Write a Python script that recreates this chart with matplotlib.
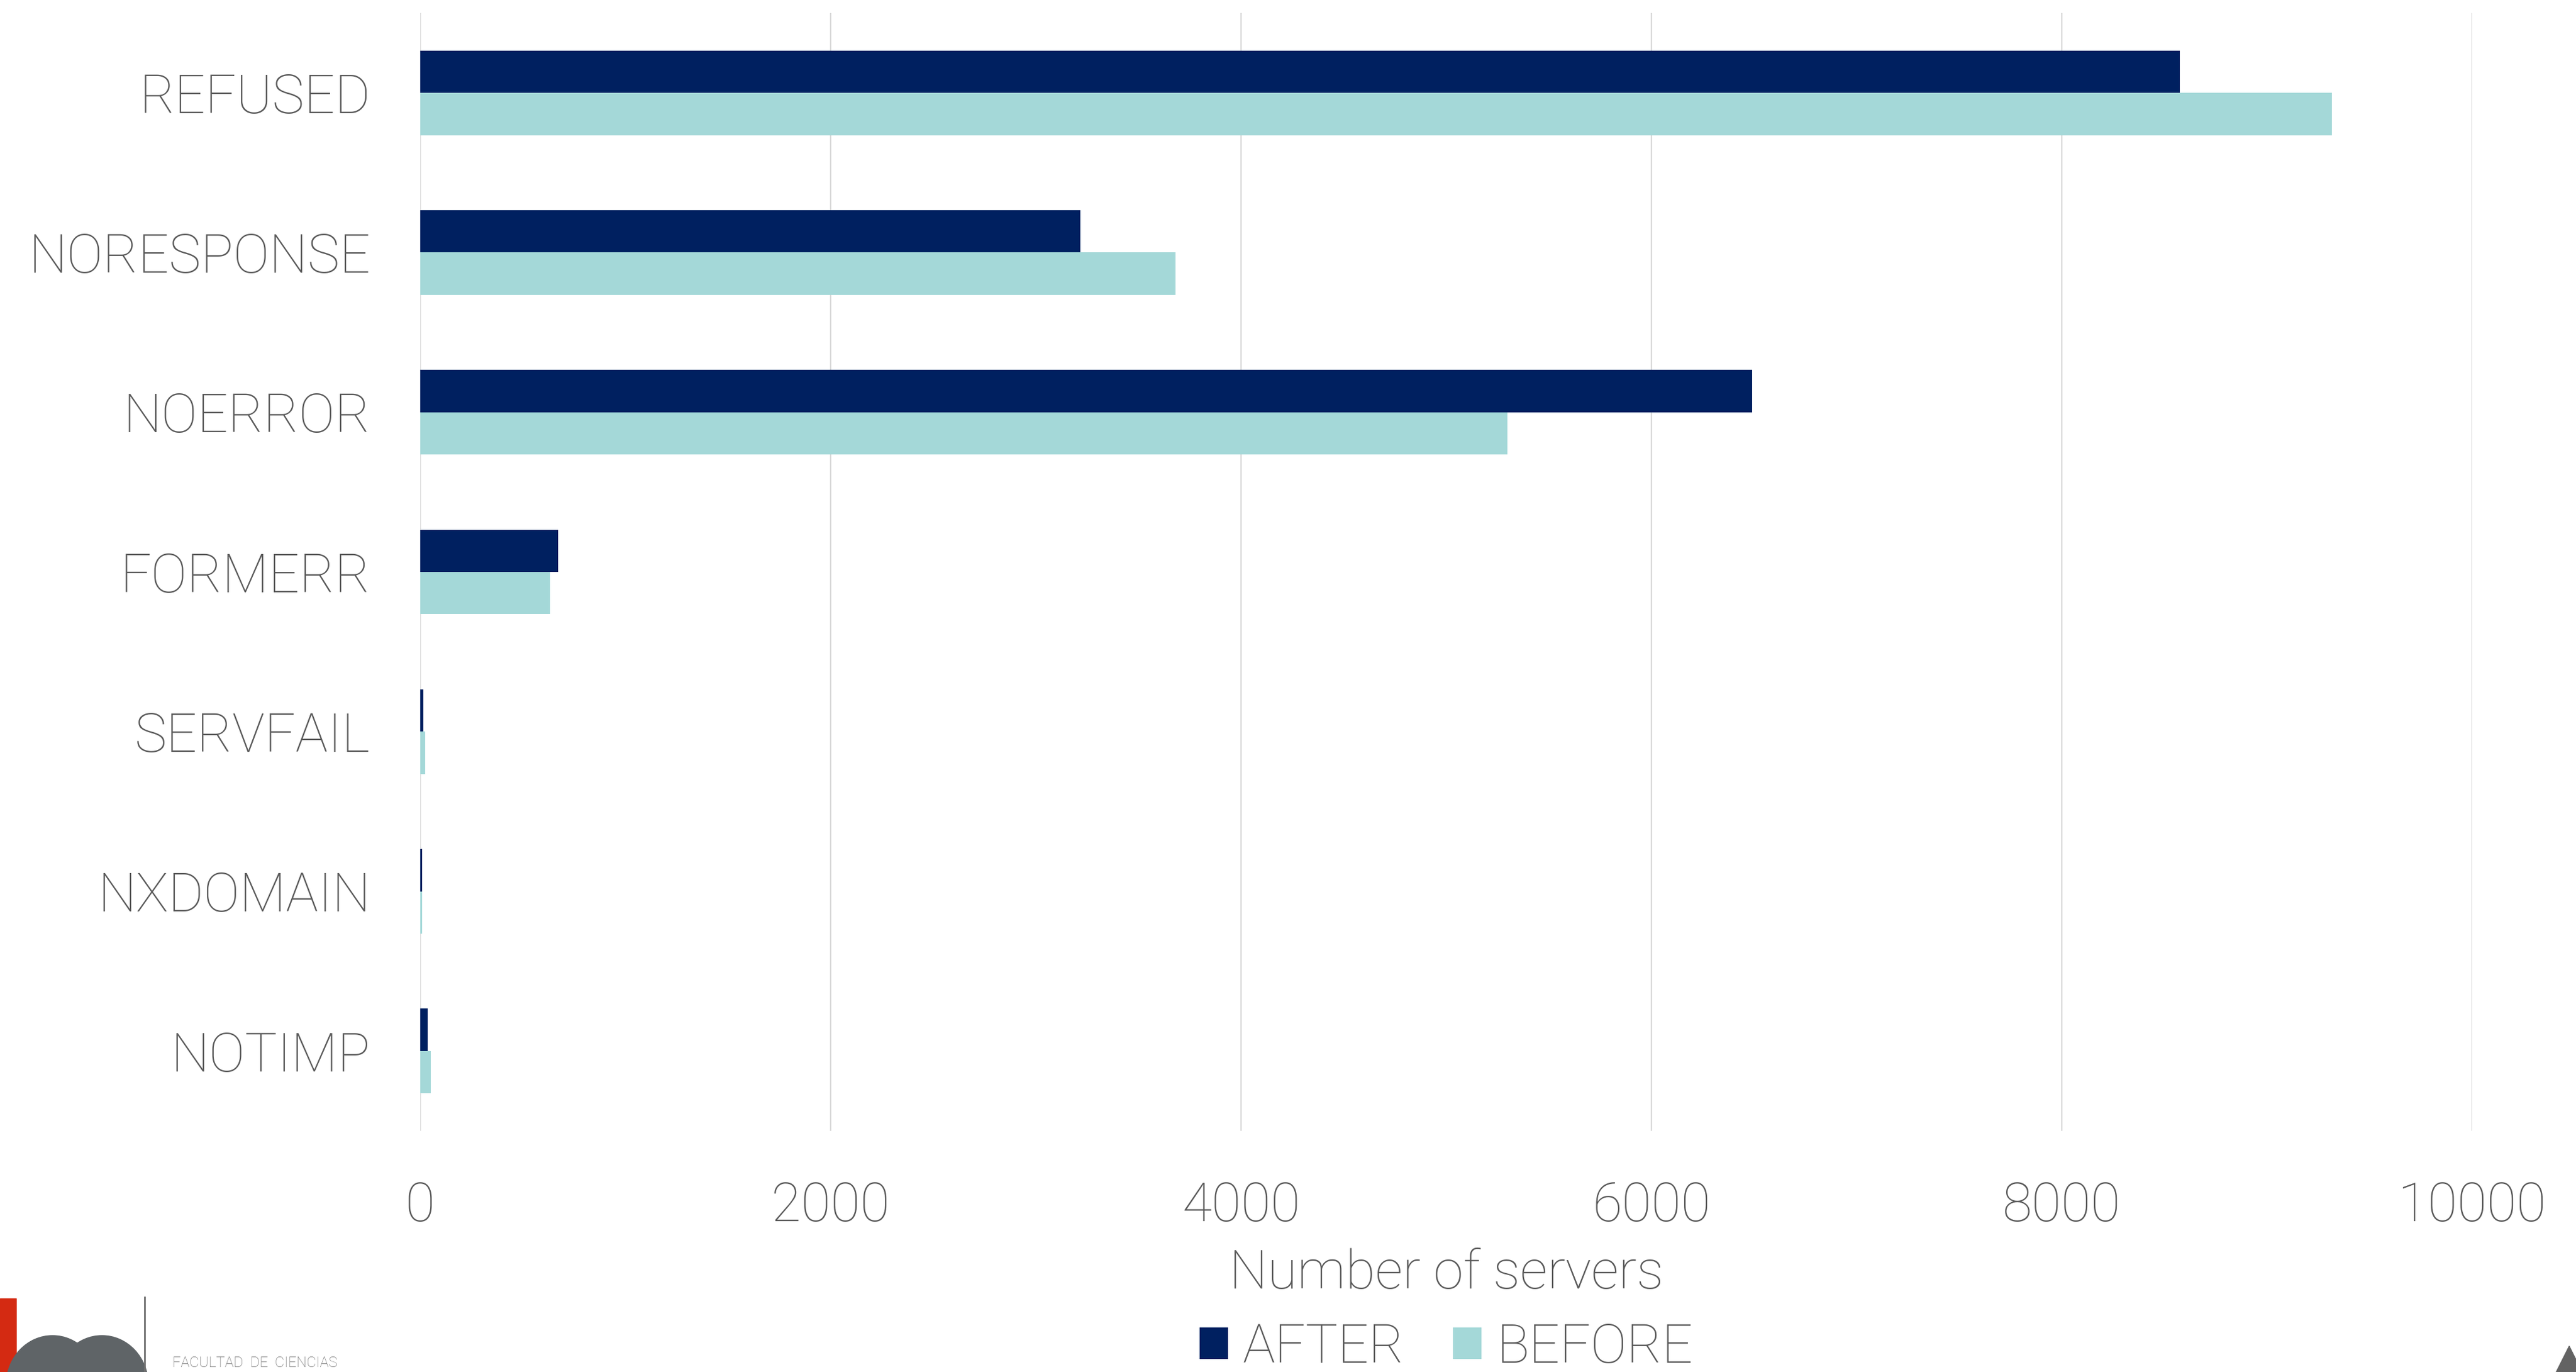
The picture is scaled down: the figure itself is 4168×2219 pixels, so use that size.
import numpy as np
import matplotlib.pyplot as plt
from matplotlib.patches import Polygon, Rectangle, Ellipse

# respuestas DNS por servidor, antes y después del cambio
categories = ['REFUSED', 'NORESPONSE', 'NOERROR', 'FORMERR', 'SERVFAIL', 'NXDOMAIN', 'NOTIMP']
after = [8576, 3216, 6492, 673, 15, 8, 36]
before = [9315, 3680, 5297, 633, 25, 8, 51]
xticks = [0, 2000, 4000, 6000, 8000, 10000]

TEXT = '#595959'
plt.rcParams['font.family'] = ['Roboto', 'DejaVu Sans']
plt.rcParams['font.weight'] = 'light'
plt.rcParams['axes.labelweight'] = 'light'
plt.rcParams['font.size'] = 63

W, H = 4168, 2219
fig = plt.figure(figsize=(W / 100, H / 100), dpi=100)
ax = fig.add_axes([680 / W, 1 - 1829 / H, 3320 / W, 1808 / H])

y = np.arange(len(categories))
h = 0.265
ax.barh(y - h / 2, after, height=h, color='#002060', label='AFTER', zorder=3)
ax.barh(y + h / 2, before, height=h, color='#A4D8D8', label='BEFORE', zorder=3)

ax.set_xlim(0, 10000)
ax.set_ylim(len(categories) - 0.5, -0.5)
ax.set_xticks(xticks)
ax.set_xticklabels([str(t) for t in xticks])
ax.set_yticks(y)
ax.set_yticklabels(categories)
ax.tick_params(length=0, colors=TEXT, labelsize=63)
ax.tick_params(axis='x', pad=58)
ax.tick_params(axis='y', pad=58)
ax.xaxis.grid(True, color='#d9d9d9', linewidth=1.6, zorder=0)
for s in ax.spines.values():
    s.set_visible(False)

ax.set_xlabel('Number of servers', color=TEXT, fontsize=63, fontweight='light', va='center')
ax.xaxis.set_label_coords(0.5, (1829 - 2060) / 1808)

fig.legend(loc='center', bbox_to_anchor=(2340 / W, 1 - 2180 / H), ncol=2, frameon=False,
           fontsize=63, labelcolor=TEXT, handlelength=0.52, handleheight=0.52,
           handletextpad=0.28, columnspacing=0.9, borderpad=0, borderaxespad=0)

# logo de la facultad, esquina inferior izquierda
deco = fig.add_axes([0, 0, 1, 1], zorder=-1)
deco.set_xlim(0, W)
deco.set_ylim(H, 0)
deco.axis('off')
deco.add_patch(Rectangle((0, 2100), 26, 130, color='#d42a12'))
deco.add_patch(Rectangle((0, 2125), 14, 110, color='#d42a12'))
deco.add_patch(Ellipse((85, 2240), 150, 160, color='#5f6467'))
deco.add_patch(Ellipse((165, 2240), 150, 160, color='#5f6467'))
deco.plot([234, 234], [2098, H], color='#707070', lw=2)
deco.text(279, 2216, 'FACULTAD  DE  CIENCIAS', fontsize=17, color='#707070', va='bottom')
deco.add_patch(Polygon([[4157, 2177], [4136, 2219], [4178, 2219]], color='#636363'))

fig.savefig('out.png', dpi=100)
